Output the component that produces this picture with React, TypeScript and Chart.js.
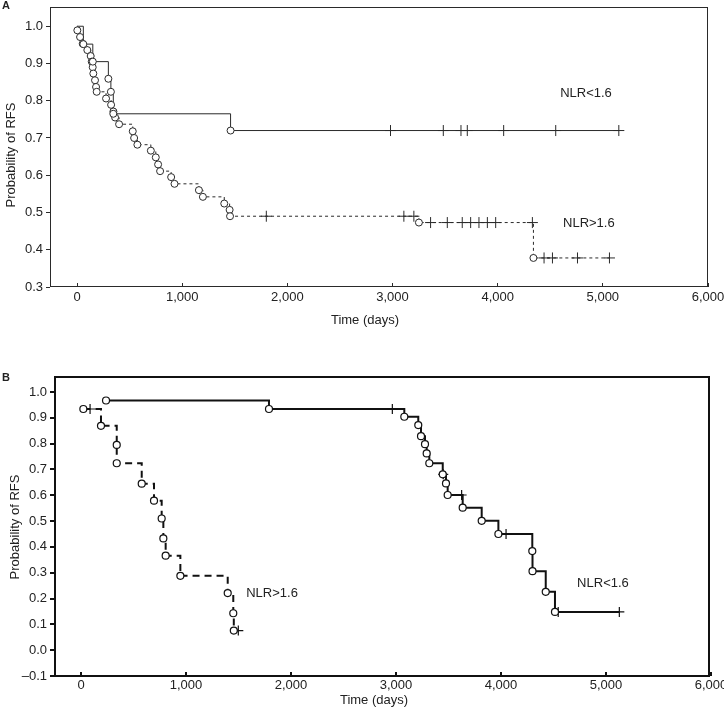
import React, { useEffect, useRef } from 'react';
import { Chart, registerables } from 'chart.js';

Chart.register(...registerables);

const FONT = "'Liberation Sans', Arial, Helvetica, sans-serif";

// ---- Tick labels ----
const xTickValues = [0, 1000, 2000, 3000, 4000, 5000, 6000];
const yTickValuesA = [0.3, 0.4, 0.5, 0.6, 0.7, 0.8, 0.9, 1.0];
const yTickValuesB = [-0.1, 0.0, 0.1, 0.2, 0.3, 0.4, 0.5, 0.6, 0.7, 0.8, 0.9, 1.0];

const seriesLow = 'NLR<1.6';
const seriesHigh = 'NLR>1.6';
const xTitle = 'Time (days)';
const yTitle = 'Probability of RFS';

// ---- Panel A: NLR<1.6 (solid) ----
const aLowEventT = [60, 150, 298, 322, 345, 1460];
const aLowEventS = [0.952, 0.905, 0.859, 0.824, 0.765, 0.72];
const aLowCensT = [2981, 3483, 3651, 3711, 4057, 4552, 5152];

// ---- Panel A: NLR>1.6 (dashed) ----
const aHighEventT = [3, 29, 54, 98, 130, 140, 149, 155, 171, 181, 187, 276, 324, 346, 362, 400, 530, 543, 574, 702, 749, 771, 790, 895, 927, 1159, 1197, 1400, 1451, 1455, 3251, 4340];
const aHighEventS = [0.989, 0.971, 0.953, 0.936, 0.92, 0.905, 0.89, 0.873, 0.855, 0.837, 0.824, 0.806, 0.789, 0.771, 0.755, 0.737, 0.718, 0.7, 0.682, 0.666, 0.648, 0.629, 0.611, 0.595, 0.577, 0.56, 0.542, 0.524, 0.507, 0.49, 0.473, 0.378];
const aHighCensT = [1800, 3108, 3203, 3362, 3521, 3663, 3743, 3822, 3902, 3981, 4330, 4441, 4521, 4759, 5063];

// ---- Panel B: NLR<1.6 (solid, thick) ----
const bLowEventT = [238, 1790, 3079, 3212, 3238, 3276, 3292, 3317, 3445, 3476, 3492, 3635, 3816, 3975, 4298, 4300, 4426, 4514];
const bLowEventS = [0.967, 0.934, 0.904, 0.872, 0.829, 0.798, 0.762, 0.724, 0.681, 0.646, 0.601, 0.552, 0.501, 0.45, 0.384, 0.306, 0.226, 0.148];
const bLowCensT = [2965, 3450, 3625, 4048, 4545, 5127];

// ---- Panel B: NLR>1.6 (dashed, thick) ----
const bHighEventT = [22, 190, 340, 340, 578, 695, 768, 784, 806, 946, 1397, 1450, 1455];
const bHighEventS = [0.934, 0.869, 0.795, 0.724, 0.645, 0.579, 0.51, 0.433, 0.366, 0.288, 0.221, 0.143, 0.076];
const bHighCensT = [86, 1498];

type Pt = { x: number; y: number };

function survivalAt(eventT: number[], eventS: number[], t: number, startS: number): number {
  let v = startS;
  for (let i = 0; i < eventT.length; i++) if (eventT[i] <= t) v = eventS[i];
  return v;
}

function curvePoints(eventT: number[], eventS: number[], censT: number[], startS: number | null): Pt[] {
  const s0 = startS === null ? eventS[0] : startS;
  const items: { x: number; y: number }[] = [];
  eventT.forEach((t, i) => items.push({ x: t, y: eventS[i] }));
  censT.forEach((t) => items.push({ x: t, y: survivalAt(eventT, eventS, t, s0) }));
  items.sort((a, b) => a.x - b.x);
  const pts: Pt[] = [];
  if (startS !== null) pts.push({ x: 0, y: startS });
  items.forEach((p) => pts.push({ x: p.x, y: p.y }));
  return pts;
}

function eventPoints(eventT: number[], eventS: number[]): Pt[] {
  return eventT.map((t, i) => ({ x: t, y: eventS[i] }));
}

function censorPoints(eventT: number[], eventS: number[], censT: number[], startS: number | null): Pt[] {
  const s0 = startS === null ? eventS[0] : startS;
  return censT.map((t) => ({ x: t, y: survivalAt(eventT, eventS, t, s0) }));
}

interface SeriesDef {
  eventT: number[];
  eventS: number[];
  censT: number[];
  startS: number | null;
  dash: number[];
}

interface PanelDef {
  letter: string;
  pageTop: number;
  height: number;
  padTop: number;
  padRight: number;
  yWidth: number;
  xHeight: number;
  xMin: number;
  xMax: number;
  yMin: number;
  yMax: number;
  yTicks: number[];
  lineWidth: number;
  boxWidth: number;
  markerBorder: number;
  crossRadius: number;
  color: string;
  xTickPad: number;
  yTickLen: number;
  yTickPad: number;
  letterY: number;
  yTitleX: number;
  yTitleY: number;
  xTitleX: number;
  xTitleY: number;
  labels: { text: string; t: number; s: number }[];
  series: SeriesDef[];
}

const panels: PanelDef[] = [
  {
    letter: 'A',
    pageTop: 0,
    height: 345,
    padTop: 4,
    padRight: 16,
    yWidth: 50,
    xHeight: 58,
    xMin: -257,
    xMax: 6000,
    yMin: 0.3,
    yMax: 1.053,
    yTicks: yTickValuesA,
    lineWidth: 1,
    boxWidth: 1,
    markerBorder: 1,
    crossRadius: 5.5,
    color: '#2a2a2a',
    xTickPad: 7,
    yTickLen: 4,
    yTickPad: 3,
    letterY: 6,
    yTitleX: 11,
    yTitleY: 155,
    xTitleX: 365,
    xTitleY: 320,
    labels: [
      { text: seriesLow, t: 4840, s: 0.819 },
      { text: seriesHigh, t: 4867, s: 0.47 },
    ],
    series: [
      { eventT: aLowEventT, eventS: aLowEventS, censT: aLowCensT, startS: 1.0, dash: [] },
      { eventT: aHighEventT, eventS: aHighEventS, censT: aHighCensT, startS: 1.0, dash: [3, 3] },
    ],
  },
  {
    letter: 'B',
    pageTop: 345,
    height: 369,
    padTop: 32,
    padRight: 15,
    yWidth: 55,
    xHeight: 38,
    xMin: -248,
    xMax: 5981,
    yMin: -0.1,
    yMax: 1.058,
    yTicks: yTickValuesB,
    lineWidth: 2,
    boxWidth: 2,
    markerBorder: 1.2,
    crossRadius: 5,
    color: '#111111',
    xTickPad: 6,
    yTickLen: 5,
    yTickPad: 3,
    letterY: 33,
    yTitleX: 15,
    yTitleY: 182,
    xTitleX: 374,
    xTitleY: 355,
    labels: [
      { text: seriesHigh, t: 1819, s: 0.221 },
      { text: seriesLow, t: 4971, s: 0.26 },
    ],
    series: [
      { eventT: bLowEventT, eventS: bLowEventS, censT: bLowCensT, startS: null, dash: [] },
      { eventT: bHighEventT, eventS: bHighEventS, censT: bHighCensT, startS: null, dash: [7, 5] },
    ],
  },
];

function fmtY(v: number): string {
  const r = Math.round(v * 10) / 10;
  if (r < 0) return '\u2013' + Math.abs(r).toFixed(1);
  return Math.abs(r).toFixed(1);
}

function fmtX(v: number): string {
  return Math.round(v).toLocaleString('en-US');
}

function buildChart(canvas: HTMLCanvasElement, p: PanelDef): Chart {
  const datasets: any[] = [];
  p.series.forEach((s) => {
    datasets.push({
      data: curvePoints(s.eventT, s.eventS, s.censT, s.startS),
      showLine: true,
      stepped: 'before',
      borderColor: p.color,
      borderWidth: p.lineWidth,
      borderDash: s.dash,
      pointRadius: 0,
      fill: false,
      order: 2,
    });
    datasets.push({
      data: censorPoints(s.eventT, s.eventS, s.censT, s.startS),
      showLine: false,
      pointStyle: 'cross',
      pointRadius: p.crossRadius,
      borderColor: p.color,
      borderWidth: p.markerBorder,
      backgroundColor: p.color,
      order: 1,
    });
    datasets.push({
      data: eventPoints(s.eventT, s.eventS),
      showLine: false,
      pointStyle: 'circle',
      pointRadius: 3.5,
      borderColor: p.color,
      borderWidth: p.markerBorder,
      backgroundColor: '#ffffff',
      order: 0,
    });
  });

  const decor = {
    id: 'decor' + p.letter,
    afterDraw(chart: any) {
      const ctx = chart.ctx as CanvasRenderingContext2D;
      const a = chart.chartArea;
      const xs = chart.scales.x;
      const ys = chart.scales.y;
      ctx.save();
      ctx.strokeStyle = p.color;
      ctx.lineWidth = p.boxWidth;
      const off = p.boxWidth % 2 === 1 ? 0.5 : 0;
      const L = Math.round(a.left) + off;
      const T = Math.round(a.top) + off;
      const R = Math.round(a.right) - off;
      const B = Math.round(a.bottom) - off;
      ctx.strokeRect(L, T, R - L, B - T);
      ctx.fillStyle = '#222';
      ctx.textBaseline = 'middle';
      ctx.font = 'bold 11px ' + FONT;
      ctx.textAlign = 'left';
      ctx.fillText(p.letter, 2, p.letterY);
      ctx.font = '13px ' + FONT;
      ctx.textAlign = 'center';
      ctx.fillText(xTitle, p.xTitleX, p.xTitleY);
      p.labels.forEach((lb) => {
        ctx.fillText(lb.text, xs.getPixelForValue(lb.t), ys.getPixelForValue(lb.s));
      });
      ctx.translate(p.yTitleX, p.yTitleY);
      ctx.rotate(-Math.PI / 2);
      ctx.fillText(yTitle, 0, 0);
      ctx.restore();
    },
  };

  return new Chart(canvas, {
    type: 'scatter',
    data: { datasets },
    plugins: [decor],
    options: {
      responsive: false,
      animation: false,
      devicePixelRatio: 1,
      events: [],
      layout: { padding: { top: p.padTop, right: p.padRight, left: 0, bottom: 0 } },
      plugins: { legend: { display: false }, tooltip: { enabled: false } },
      scales: {
        x: {
          type: 'linear',
          min: p.xMin,
          max: p.xMax,
          afterBuildTicks: (scale: any) => {
            scale.ticks = xTickValues.map((v) => ({ value: v }));
          },
          afterFit: (scale: any) => {
            scale.height = p.xHeight;
            scale.paddingLeft = 0;
            scale.paddingRight = 0;
          },
          border: { display: false },
          grid: { drawOnChartArea: false, drawTicks: true, tickLength: -4, color: p.color, lineWidth: p.boxWidth },
          ticks: {
            autoSkip: false,
            maxRotation: 0,
            minRotation: 0,
            padding: p.xTickPad,
            color: '#222',
            font: { family: FONT, size: 13 },
            callback: (v: any) => fmtX(Number(v)),
          },
        },
        y: {
          type: 'linear',
          min: p.yMin,
          max: p.yMax,
          afterBuildTicks: (scale: any) => {
            scale.ticks = p.yTicks.map((v) => ({ value: v }));
          },
          afterFit: (scale: any) => {
            scale.width = p.yWidth;
            scale.paddingTop = 0;
            scale.paddingBottom = 0;
          },
          border: { display: false },
          grid: { drawOnChartArea: false, drawTicks: true, tickLength: p.yTickLen, color: p.color, lineWidth: p.boxWidth },
          ticks: {
            autoSkip: false,
            padding: p.yTickPad,
            color: '#222',
            font: { family: FONT, size: 13 },
            callback: (v: any) => fmtY(Number(v)),
          },
        },
      },
    } as any,
  });
}

function Panel({ p }: { p: PanelDef }) {
  const ref = useRef<HTMLCanvasElement | null>(null);
  useEffect(() => {
    if (!ref.current) return;
    const chart = buildChart(ref.current, p);
    return () => chart.destroy();
  }, [p]);
  return (
    <canvas
      ref={ref}
      width={724}
      height={p.height}
      style={{ position: 'absolute', left: 0, top: p.pageTop, width: 724, height: p.height, display: 'block' }}
    />
  );
}

export default function App() {
  return (
    <div style={{ position: 'absolute', left: 0, top: 0, width: 724, height: 714, background: '#fff' }}>
      {panels.map((p) => (
        <Panel key={p.letter} p={p} />
      ))}
    </div>
  );
}
